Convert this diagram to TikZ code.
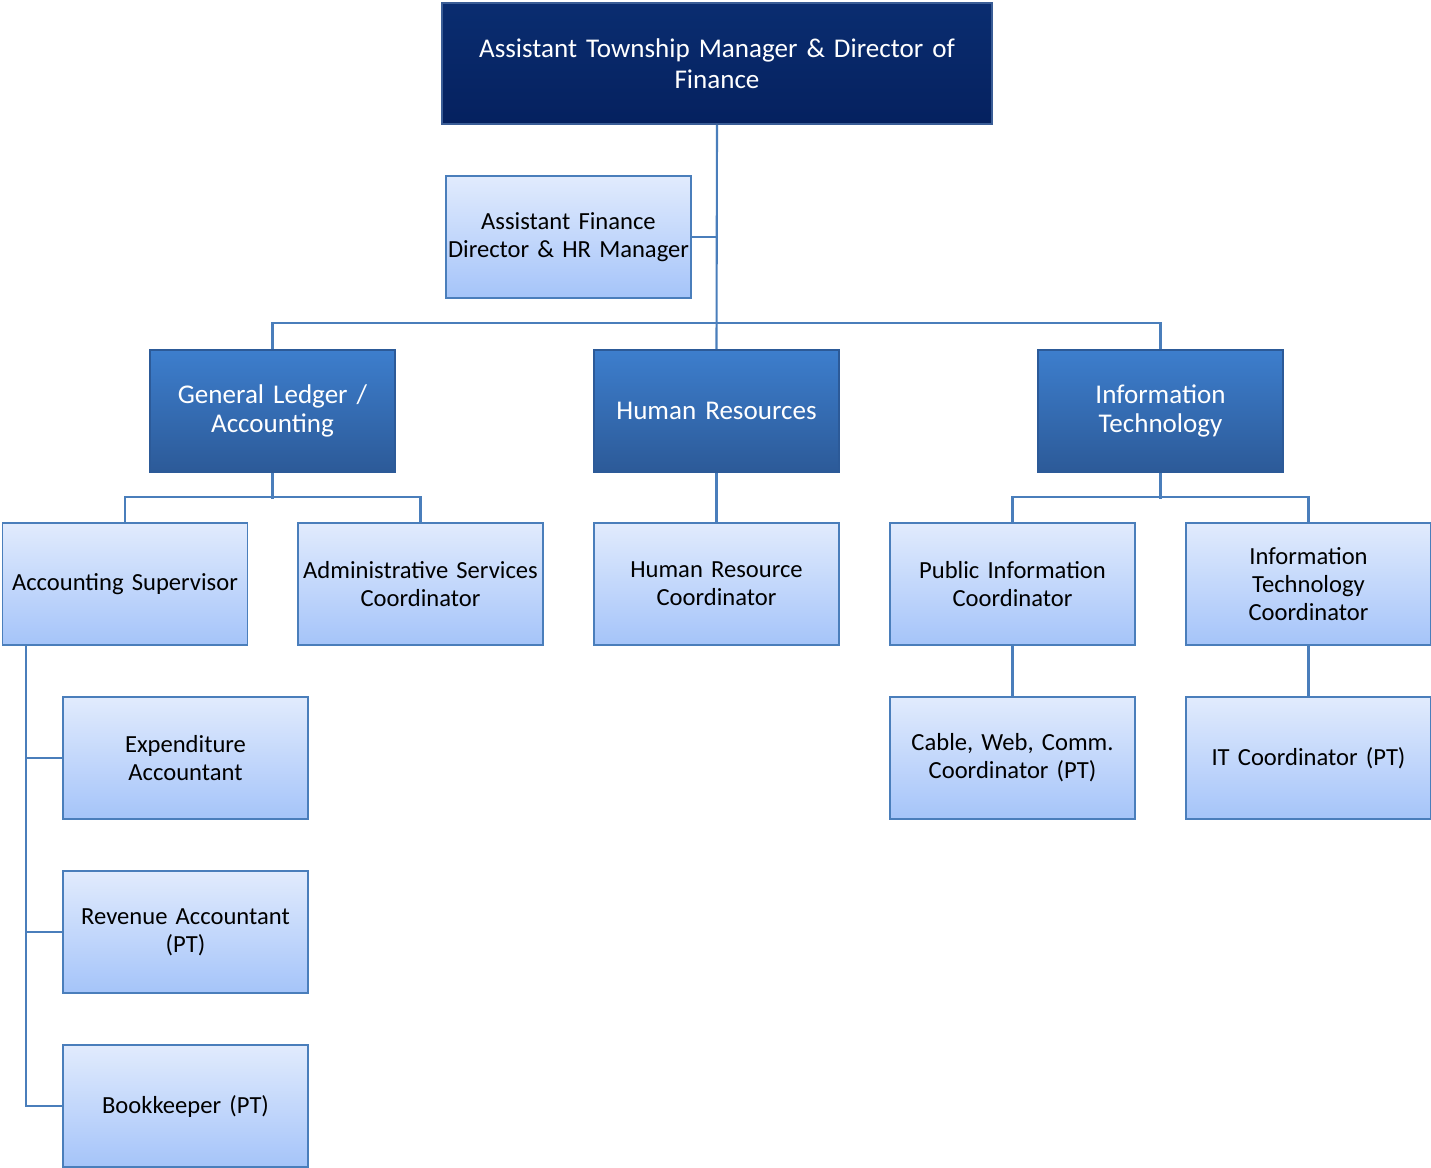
\documentclass[tikz,border=0pt]{standalone}
\usepackage{fontspec}
\setmainfont{Carlito}
\definecolor{lineblue}{HTML}{4A7EBB}
\definecolor{litetop}{HTML}{E1EBFD}
\definecolor{litebot}{HTML}{A5C4F9}
\definecolor{midtop}{HTML}{3D7ECD}
\definecolor{midbot}{HTML}{2C5A98}
\definecolor{navytop}{HTML}{0A2D70}
\definecolor{navybot}{HTML}{05215F}
\definecolor{navyedge}{HTML}{3A5D96}

\begin{document}
\begin{tikzpicture}[x=0.02cm,y=-0.02cm,
  conn/.style={lineblue,line width=1.2pt},
  litebox/.style={draw=lineblue,line width=1.1pt,top color=litetop,bottom color=litebot,
    minimum width=4.9cm,minimum height=2.44cm,text width=4.9cm,align=center,inner sep=0pt,
    font=\fontsize{14}{15.8}\selectfont},
  midbox/.style={litebox,draw=midbot,top color=midtop,bottom color=midbot,text=white,
    font=\fontsize{15.4}{17}\selectfont},
  topbox/.style={draw=navyedge,line width=1.1pt,top color=navytop,bottom color=navybot,text=white,
    minimum width=11cm,minimum height=2.42cm,text width=10.8cm,align=center,inner sep=0pt,
    font=\fontsize{15.4}{17.6}\selectfont}]
  \useasboundingbox (0,0) rectangle (1431,1168);
  % top of the chart
  \node[topbox] (atm) at (717,63.5) {Assistant Township Manager \& Director of\\Finance};
  \node[litebox] (afd) at (568.5,237) {Assistant Finance\\Director \& HR Manager};
  % divisions
  \node[midbox] (gl) at (272.5,411) {General Ledger /\\Accounting};
  \node[midbox] (hr) at (716.5,411) {Human Resources};
  \node[midbox] (it) at (1160.5,411) {Information\\Technology};
  % staff
  \node[litebox] (as) at (125,584) {Accounting Supervisor};
  \node[litebox] (adm) at (420.5,584) {Administrative Services\\Coordinator};
  \node[litebox] (hrc) at (716.5,584) {Human Resource\\Coordinator};
  \node[litebox] (pic) at (1012.5,584) {Public Information\\Coordinator};
  \node[litebox] (itc) at (1308.5,584) {Information\\Technology\\Coordinator};
  \node[litebox] (exp) at (185.5,758) {Expenditure\\Accountant};
  \node[litebox] (rev) at (185.5,932) {Revenue Accountant\\(PT)};
  \node[litebox] (bk) at (185.5,1106) {Bookkeeper (PT)};
  \node[litebox] (cab) at (1012.5,758) {Cable, Web, Comm.\\Coordinator (PT)};
  \node[litebox] (itpt) at (1308.5,758) {IT Coordinator (PT)};
  % connectors
  \draw[conn] (atm.south) -- (hr.north);
  \draw[conn] (afd.east) -- (afd.east -| atm.south);
  \draw[conn] (gl.north) -- ++(0,-26) -| (it.north);
  \draw[conn] (gl.south) -- ++(0,26);
  \draw[conn] (as.north) -- ++(0,-25) -| (adm.north);
  \draw[conn] (hr.south) -- (hrc.north);
  \draw[conn] (it.south) -- ++(0,26);
  \draw[conn] (pic.north) -- ++(0,-25) -| (itc.north);
  \draw[conn] (pic.south) -- (cab.north);
  \draw[conn] (itc.south) -- (itpt.north);
  \draw[conn] (as.south west) ++(24,0) |- (bk.west);
  \foreach \n in {exp,rev}
    \draw[conn] (\n.west) -- ++(-36,0);
\end{tikzpicture}
\end{document}
